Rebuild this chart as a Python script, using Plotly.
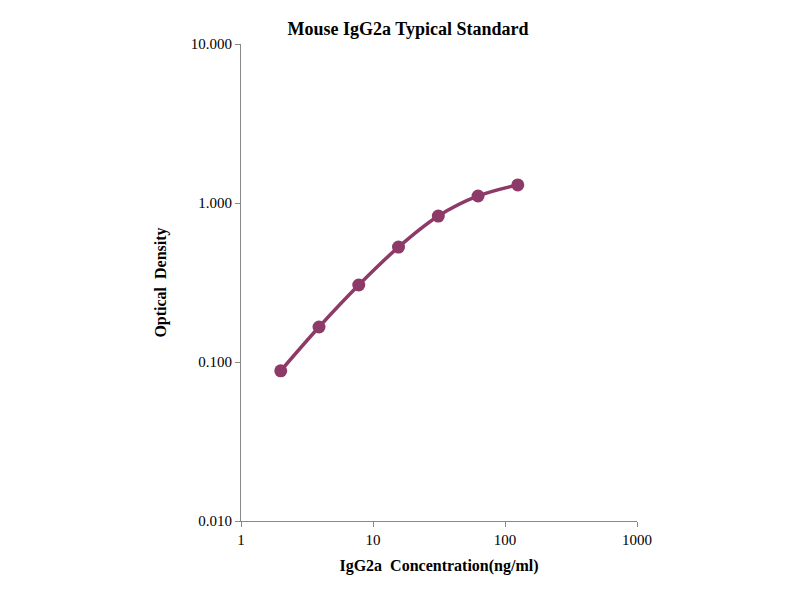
import plotly.graph_objects as go

conc = [2, 3.9, 7.8, 15.6, 31.25, 62.5, 125]
od = [0.088, 0.166, 0.305, 0.528, 0.828, 1.107, 1.30]
xticks = [1, 10, 100, 1000]
yticks = [0.01, 0.1, 1, 10]
ylabels = ["0.010", "0.100", "1.000", "10.000"]

col = "#8E3A68"
fig = go.Figure(go.Scatter(x=conc, y=od, mode="lines+markers",
    line=dict(color=col, width=3.5, shape="spline"),
    marker=dict(color=col, size=13)))
font = dict(family="Liberation Serif", color="black")
fig.update_layout(
    width=800, height=600, paper_bgcolor="white", plot_bgcolor="white",
    margin=dict(l=233, r=171, t=36, b=87), showlegend=False,
    title=dict(text="<b>Mouse IgG2a Typical Standard</b>", x=0.5, xanchor="center",
               y=0.966, yanchor="middle", font=dict(size=18, **font)),
    font=dict(size=15, **font),
)
fig.update_xaxes(type="log", range=[0, 3], tickvals=xticks, ticktext=[str(v) for v in xticks],
    showline=True, linecolor="#888", ticks="outside", ticklen=5, tickcolor="#888",
    showgrid=False,
    title=dict(text="<b>IgG2a  Concentration(ng/ml)</b>", font=dict(size=16, **font), standoff=12))
fig.update_yaxes(type="log", range=[-2, 1], tickvals=yticks, ticktext=ylabels,
    showline=True, linecolor="#888", ticks="outside", ticklen=5, tickcolor="#888",
    showgrid=False,
    title=dict(text="<b>Optical  Density</b>", font=dict(size=16, **font), standoff=20))
fig.write_html("out.html")
